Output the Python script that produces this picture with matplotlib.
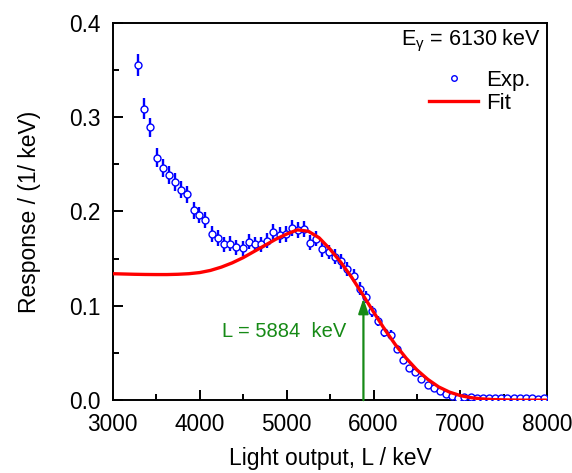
import matplotlib
matplotlib.use("Agg")
import matplotlib.pyplot as plt
from matplotlib.lines import Line2D

plt.rcParams["font.family"] = ["Liberation Sans", "DejaVu Sans"]
plt.rcParams["mathtext.fontset"] = "custom"
plt.rcParams["mathtext.rm"] = "Liberation Sans"
plt.rcParams["mathtext.it"] = "Liberation Sans"

# measured response (light output in keV, response in 1/keV)
exp_x = [3291, 3357, 3429, 3506, 3575, 3648, 3720, 3786, 3855, 3932,
         3997, 4066, 4143, 4212, 4281, 4353, 4422, 4496, 4568, 4637,
         4710, 4779, 4848, 4925, 4994, 5063, 5132, 5201, 5270, 5343,
         5412, 5486, 5555, 5631, 5700, 5771, 5842, 5912, 5983, 6054,
         6125, 6196, 6267, 6337, 6408, 6479, 6550, 6621, 6692, 6762,
         6833, 6904, 6975, 7046, 7116, 7187, 7258, 7329, 7400, 7470,
         7541, 7612, 7683, 7754, 7825, 7895, 7966]
exp_y = [0.355, 0.309, 0.289, 0.257, 0.246, 0.239, 0.231, 0.223, 0.218, 0.201,
         0.196, 0.191, 0.176, 0.172, 0.165, 0.166, 0.162, 0.161, 0.168, 0.165,
         0.165, 0.169, 0.178, 0.175, 0.176, 0.182, 0.180, 0.181, 0.167, 0.171,
         0.160, 0.157, 0.152, 0.147, 0.139, 0.132, 0.118, 0.109, 0.094, 0.084,
         0.072, 0.069, 0.054, 0.043, 0.034, 0.0295, 0.0223, 0.016, 0.0125, 0.0095,
         0.0068, 0.0047, 0.0027, 0.0029, 0.0029, 0.0022, 0.0022, 0.0020, 0.0021, 0.0019,
         0.0020, 0.0018, 0.0019, 0.0018, 0.0019, 0.0017, 0.0018]
exp_err = [0.012, 0.011, 0.0105, 0.010, 0.0097, 0.0095, 0.0094, 0.0092, 0.0091, 0.0088,
           0.0087, 0.0086, 0.0083, 0.0082, 0.0080, 0.0080, 0.0079, 0.0079, 0.0081, 0.0080,
           0.0080, 0.0081, 0.0083, 0.0082, 0.0083, 0.0084, 0.0083, 0.0084, 0.0080, 0.0081,
           0.0078, 0.0078, 0.0077, 0.0075, 0.0073, 0.0071, 0.0067, 0.0065, 0.0060, 0.0057,
           0.0052, 0.0051, 0.0045, 0.0041, 0.0036, 0.0034, 0.0029, 0.0025, 0.0022, 0.0019,
           0.0016, 0.0013, 0.0010, 0.0010, 0.0010, 0.0009, 0.0009, 0.0008, 0.0008, 0.0008,
           0.0008, 0.0008, 0.0008, 0.0008, 0.0008, 0.0008, 0.0008]

# fitted response function
fit_x = [3000, 3125, 3250, 3375, 3500, 3625, 3750, 3875, 4000, 4125,
         4250, 4375, 4500, 4625, 4750, 4875, 5000, 5125, 5250, 5375,
         5500, 5625, 5750, 5875, 6000, 6125, 6250, 6375, 6500, 6625,
         6750, 6875, 7000, 7125, 7250, 7375, 7500, 7625, 7750, 7875, 8000]
fit_y = [0.1340, 0.1337, 0.1334, 0.1332, 0.1331, 0.1331, 0.1334, 0.1340, 0.1352, 0.1375,
         0.1410, 0.1455, 0.1510, 0.1575, 0.1640, 0.1705, 0.1760, 0.1805, 0.1790, 0.1720,
         0.1600, 0.1460, 0.1300, 0.1120, 0.0935, 0.0755, 0.0590, 0.0445, 0.0320, 0.0220,
         0.0140, 0.0085, 0.0048, 0.0026, 0.0013, 0.0006, 0.0003, 0.0001, 0.0, 0.0, 0.0]

L_mark = 5884
L_mark_y = 0.108
E_gamma = 6130

blue = "#0000ff"
red = "#ff0000"
green = "#168a16"

fig = plt.figure(figsize=(5.72, 4.73), dpi=100)
ax = fig.add_axes([0.197, 0.154, 0.76, 0.798])

ax.errorbar(exp_x, exp_y, yerr=exp_err, fmt="none", ecolor=blue, elinewidth=1.7,
            capsize=0, zorder=2)
ax.plot(exp_x, exp_y, "o", ms=5, mfc="white", mec=blue, mew=1.0, zorder=3)
ax.plot(fit_x, fit_y, color=red, lw=2.4, zorder=4)

ax.annotate("", xy=(L_mark, L_mark_y), xytext=(L_mark, 0.0),
            arrowprops=dict(arrowstyle="-|>,head_length=0.9,head_width=0.3",
                            color=green, lw=1.6, mutation_scale=10,
                            shrinkA=0, shrinkB=0),
            zorder=5)
ax.text(4254, 0.073, f"L = {L_mark}  keV", color=green, fontsize=14.5,
        ha="left", va="center")

ax.text(0.663, 0.951, r"E$_{\gamma}$ = %d keV" % E_gamma, transform=ax.transAxes,
        fontsize=15.5, ha="left", va="center")

handles = [
    Line2D([], [], ls="none", marker="o", ms=4, mfc="white", mec=blue, mew=1.0),
    Line2D([], [], color=red, lw=2.4),
]
ax.legend(handles, ["Exp.", "Fit"], loc="upper left", bbox_to_anchor=(0.728, 0.876),
          frameon=False, fontsize=16, handlelength=2.2, handletextpad=0.35,
          labelspacing=0.12, borderpad=0, borderaxespad=0)

ax.set_xlim(3000, 8000)
ax.set_ylim(0.0, 0.4)
ax.set_xticks([3000, 4000, 5000, 6000, 7000, 8000])
ax.set_xticks([3500, 4500, 5500, 6500, 7500], minor=True)
ax.set_yticks([0.0, 0.1, 0.2, 0.3, 0.4])
ax.set_yticks([0.05, 0.15, 0.25, 0.35], minor=True)
ax.set_yticklabels(["0.0", "0.1", "0.2", "0.3", "0.4"])

ax.tick_params(which="both", direction="in", width=1.4, labelsize=16.3)
ax.tick_params(which="major", length=7.5, pad=9)
ax.tick_params(which="minor", length=4.3)
for sp in ax.spines.values():
    sp.set_linewidth(1.4)

ax.set_xlabel("Light output, L / keV", fontsize=16.5, labelpad=8)
ax.set_ylabel("Response / (1/ keV)", fontsize=16.5, labelpad=20)

fig.savefig("out.png", dpi=100)
